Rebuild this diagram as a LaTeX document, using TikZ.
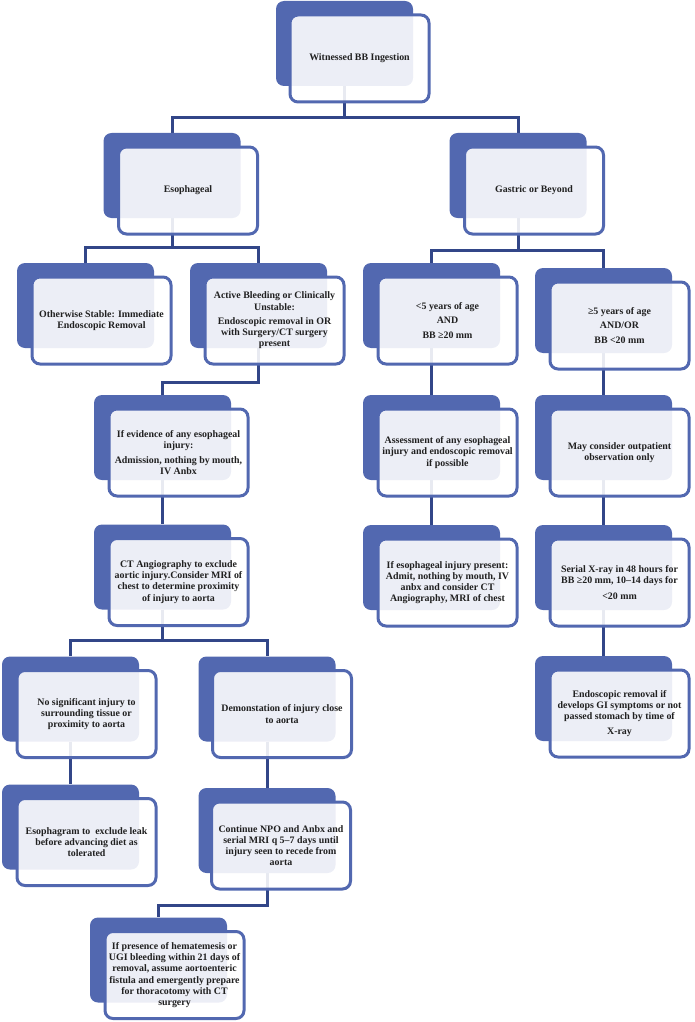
\documentclass[tikz,border=0pt]{standalone}
\usepackage{fontspec}
\setmainfont{Liberation Serif}
\usepackage{tikz}
\usetikzlibrary{positioning,backgrounds}
\usepackage{xcolor}
\definecolor{bbblue}{RGB}{82,104,176}
\definecolor{bbnavy}{RGB}{50,70,136}
\definecolor{bbtext}{RGB}{32,32,32}

\begin{document}
\begin{tikzpicture}[
    x=1pt,y=-1pt,
    boxback/.style={fill=bbblue,rounded corners=8pt,minimum width=137pt,minimum height=85pt,inner sep=0pt},
    box/.style={draw=bbblue,line width=3pt,fill=white,fill opacity=0.89,text opacity=1,rounded corners=8pt,
        minimum width=139pt,minimum height=87pt,inner sep=2pt,align=center,text=bbtext,
        font=\fontsize{9.9}{11.2}\selectfont\bfseries},
    link/.style={draw=bbnavy,line width=3pt}
]
\useasboundingbox (0,0) rectangle (694,1022);

% top level
\node[boxback] (witB) at (344.5,43.5) {};
\node[box] (wit) at ([shift={(15,15)}]witB) {Witnessed BB Ingestion};

% location
\node[boxback] (esoB) at (172,175.5) {};
\node[box] (eso) at ([shift={(16,15)}]esoB) {Esophageal};
\node[boxback] (gasB) at (518,175.5) {};
\node[box] (gas) at ([shift={(16,15)}]gasB) {Gastric or Beyond};

% esophageal branch
\node[boxback] (stabB) at (85.5,305.5) {};
\node[box] (stab) at ([shift={(16,15)}]stabB) {Otherwise Stable: Immediate\\Endoscopic Removal};
\node[boxback] (actB) at (258.5,305.5) {};
\node[box] (act) at ([shift={(16,15)}]actB) {Active Bleeding or Clinically\\Unstable:\\[3pt]Endoscopic removal in OR\\with Surgery/CT surgery\\present};
\node[boxback] (evidB) at (162.5,437.5) {};
\node[box] (evid) at ([shift={(16,15)}]evidB) {If evidence of any esophageal\\injury:\\[3pt]Admission, nothing by mouth,\\IV Anbx};
\node[boxback] (angB) at (162.5,567) {};
\node[box] (ang) at ([shift={(16,15)}]angB) {CT Angiography to exclude\\aortic injury.Consider MRI of\\chest to determine proximity\\of injury to aorta};
\node[boxback] (nosigB) at (70.5,699) {};
\node[box] (nosig) at ([shift={(16,15)}]nosigB) {No significant injury to\\surrounding tissue or\\proximity to aorta};
\node[boxback] (demoB) at (267,699) {};
\node[box] (demo) at ([shift={(15,15)}]demoB) {Demonstation of injury close\\to aorta};
\node[boxback] (esogB) at (70.5,827) {};
\node[box] (esog) at ([shift={(16,15)}]esogB) {Esophagram to\ \ exclude leak\\before advancing diet as\\tolerated};
\node[boxback] (npoB) at (267,830.5) {};
\node[box] (npo) at ([shift={(14,15)}]npoB) {Continue NPO and Anbx and\\serial MRI q 5--7 days until\\injury seen to recede from\\aorta};
\node[boxback] (presB) at (158.5,960) {};
\node[box] (pres) at ([shift={(16,15)}]presB) {If presence of hematemesis or\\UGI bleeding within 21 days of\\removal, assume aortoenteric\\fistula and emergently prepare\\for thoracotomy with CT\\surgery};

% gastric branch
\node[boxback] (lt5B) at (431.5,305.5) {};
\node[box] (lt5) at ([shift={(16,15)}]lt5B) {<5 years of age\\[3pt]AND\\[3pt]BB ≥20 mm};
\node[boxback] (ge5B) at (603.5,310.5) {};
\node[box] (ge5) at ([shift={(16,15)}]ge5B) {≥5 years of age\\[3pt]AND/OR\\[3pt]BB <20 mm};
\node[boxback] (assessB) at (431.5,437.5) {};
\node[box] (assess) at ([shift={(16,15)}]assessB) {Assessment of any esophageal\\injury and endoscopic removal\\if possible};
\node[boxback] (ifesoB) at (431.5,567.5) {};
\node[box] (ifeso) at ([shift={(16,15)}]ifesoB) {If esophageal injury present:\\Admit, nothing by mouth, IV\\anbx and consider CT\\Angiography, MRI of chest};
\node[boxback] (mayB) at (603.5,437.5) {};
\node[box] (may) at ([shift={(16,15)}]mayB) {May consider outpatient\\observation only};
\node[boxback] (xrayB) at (603.5,567.5) {};
\node[box] (xray) at ([shift={(16,15)}]xrayB) {Serial X-ray in 48 hours for\\BB ≥20 mm, 10--14 days for\\[4pt]<20 mm};
\node[boxback] (endoB) at (603.5,698.5) {};
\node[box] (endo) at ([shift={(16,15)}]endoB) {Endoscopic removal if\\develops GI symptoms or not\\passed stomach by time of\\[4pt]X-ray};

% connectors
\begin{pgfonlayer}{background}
\coordinate (jw) at (344.5,118);
\draw[link] (witB) -- (jw) -| (esoB);
\draw[link] (jw) -| (gasB);
\coordinate (je) at (172,247);
\draw[link] (esoB) -- (je) -| (stabB);
\draw[link] (je) -| (actB);
\coordinate (jg) at (518,250);
\draw[link] (gasB) -- (jg) -| (lt5B);
\draw[link] (jg) -| (ge5B);
\coordinate (ja) at (258.5,382);
\draw[link] (actB) -- (ja) -| (evidB);
\draw[link] (evidB) -- (angB);
\coordinate (jc) at (162.5,640);
\draw[link] (angB) -- (jc) -| (nosigB);
\draw[link] (jc) -| (demoB);
\draw[link] (nosigB) -- (esogB);
\draw[link] (demoB) -- (npoB);
\coordinate (jn) at (267,905);
\draw[link] (npoB) -- (jn) -| (presB);
\draw[link] (lt5B) -- (assessB);
\draw[link] (assessB) -- (ifesoB);
\draw[link] (ge5B) -- (mayB);
\draw[link] (mayB) -- (xrayB);
\draw[link] (xrayB) -- (endoB);
\end{pgfonlayer}
\end{tikzpicture}
\end{document}
